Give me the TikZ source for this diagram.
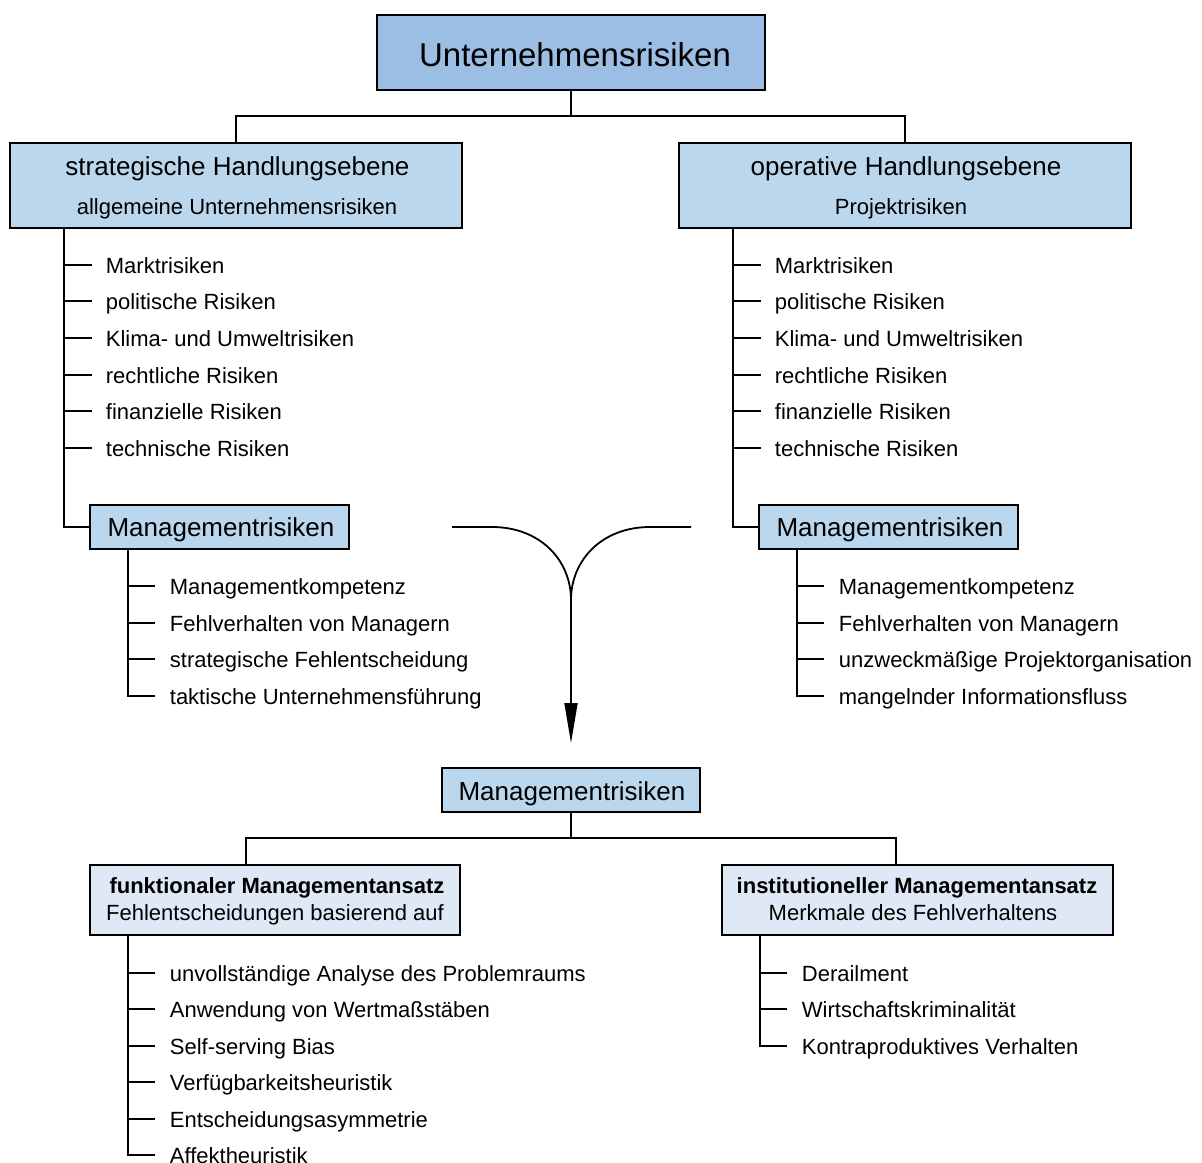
\documentclass[tikz,border=0pt]{standalone}
\usepackage{fontspec}
\setmainfont{Liberation Sans}
\usetikzlibrary{arrows.meta}
\definecolor{topblue}{RGB}{157,190,228}
\definecolor{midblue}{RGB}{187,215,238}
\definecolor{lightblue}{RGB}{222,233,245}
\begin{document}
\begin{tikzpicture}[x=1pt,y=-1pt,line width=1.8pt,
  boxtop/.style={draw=black,fill=topblue,inner sep=0pt},
  boxmid/.style={draw=black,fill=midblue,inner sep=0pt},
  boxlight/.style={draw=black,fill=lightblue,inner sep=0pt},
  lbl/.style={anchor=base,inner sep=0pt},
  item/.style={anchor=base west,inner sep=0pt,font=\fontsize{22}{26}\selectfont},
  fbig/.style={font=\fontsize{33}{38}\selectfont},
  fmid/.style={font=\fontsize{26}{30}\selectfont},
  fsmall/.style={font=\fontsize{22}{26}\selectfont}]
\useasboundingbox (0,0) rectangle (1202,1162);

% top
\node[boxtop,minimum width=388pt,minimum height=75pt] (T) at (571,52.5) {};
\node[lbl,fbig] (Tt) at (575,66) {Unternehmensrisiken};

% level 2
\node[boxmid,minimum width=452pt,minimum height=85pt] (L) at (236,185.5) {};
\node[lbl,fmid] (Lt1) at (237.5,175) {strategische Handlungsebene};
\node[lbl,fsmall] (Lt2) at (237,214) {allgemeine Unternehmensrisiken};
\node[boxmid,minimum width=452pt,minimum height=85pt] (R) at (905,185.5) {};
\node[lbl,fmid] (Rt1) at (906,175) {operative Handlungsebene};
\node[lbl,fsmall] (Rt2) at (901,214) {Projektrisiken};

\draw (T.south) -- (571,116) coordinate (tj);
\draw (L.north) |- (tj) -| (R.north);

% Management boxes
\node[boxmid,minimum width=259pt,minimum height=44pt] (LM) at (219.5,527) {};
\node[lbl,fmid] (LMt) at (221,536) {Managementrisiken};
\node[boxmid,minimum width=259pt,minimum height=44pt] (RM) at (888.5,527) {};
\node[lbl,fmid] (RMt) at (890,536) {Managementrisiken};

% left lists
\draw (64,228) |- (LM.west);
\foreach \y/\t in {265/Marktrisiken,301/politische Risiken,338/Klima- und Umweltrisiken,375/rechtliche Risiken,411/finanzielle Risiken,448/technische Risiken}{
  \draw (64,\y) -- (92,\y);
  \node[item] at (105,\y+8) {\t};
  \draw (733,\y) -- (761,\y);
  \node[item] at (774,\y+8) {\t};
}
\draw (733,228) |- (RM.west);

\draw (128,549) |- (155,696);
\foreach \y/\t in {586/Managementkompetenz,623/Fehlverhalten von Managern,659/strategische Fehlentscheidung,696/taktische Unternehmensführung}{
  \draw (128,\y) -- (155,\y);
  \node[item] at (169,\y+8) {\t};
}
\draw (797,549) |- (824,696);
\foreach \y/\t in {586/Managementkompetenz,623/Fehlverhalten von Managern,659/unzweckmäßige Projektorganisation,696/mangelnder Informationsfluss}{
  \draw (797,\y) -- (824,\y);
  \node[item] at (838,\y+8) {\t};
}

% merge arrow
\coordinate (mL) at (452,527);
\coordinate (mR) at (691,527);
\coordinate (mJ) at (571,600);
\coordinate (mE) at (571,743);
\draw (mL) -- (492,527) .. controls (540,527) and (571,560) .. (mJ);
\draw (mR) -- (650,527) .. controls (602,527) and (571,560) .. (mJ);
\draw[-{Triangle[length=40pt,width=13pt]}] (mJ) -- (mE);

% bottom
\node[boxmid,minimum width=258pt,minimum height=44pt] (BM) at (571,790) {};
\node[lbl,fmid] (BMt) at (572,800) {Managementrisiken};

\node[boxlight,minimum width=370pt,minimum height=70pt] (F) at (275,900) {};
\node[lbl,fsmall,font=\fontsize{22}{26}\selectfont\bfseries] (Ft1) at (277,893) {funktionaler Managementansatz};
\node[lbl,fsmall] (Ft2) at (275,920) {Fehlentscheidungen basierend auf};
\node[boxlight,minimum width=391pt,minimum height=70pt] (I) at (917.5,900) {};
\node[lbl,fsmall,font=\fontsize{22}{26}\selectfont\bfseries] (It1) at (917,893) {institutioneller Managementansatz};
\node[lbl,fsmall] (It2) at (913,920) {Merkmale des Fehlverhaltens};

\draw (BM.south) -- (571,838) coordinate (bj);
\draw (246,865) |- (bj) -| (896,865);

\draw (128,935) |- (155,1155);
\foreach \y/\t in {973/unvollständige Analyse des Problemraums,1009/Anwendung von Wertmaßstäben,1046/Self-serving Bias,1082/Verfügbarkeitsheuristik,1119/Entscheidungsasymmetrie,1155/Affektheuristik}{
  \draw (128,\y) -- (155,\y);
  \node[item] at (169,\y+8) {\t};
}
\draw (760,935) |- (787,1046);
\foreach \y/\t in {973/Derailment,1009/Wirtschaftskriminalität,1046/Kontraproduktives Verhalten}{
  \draw (760,\y) -- (787,\y);
  \node[item] at (801,\y+8) {\t};
}
\end{tikzpicture}
\end{document}
